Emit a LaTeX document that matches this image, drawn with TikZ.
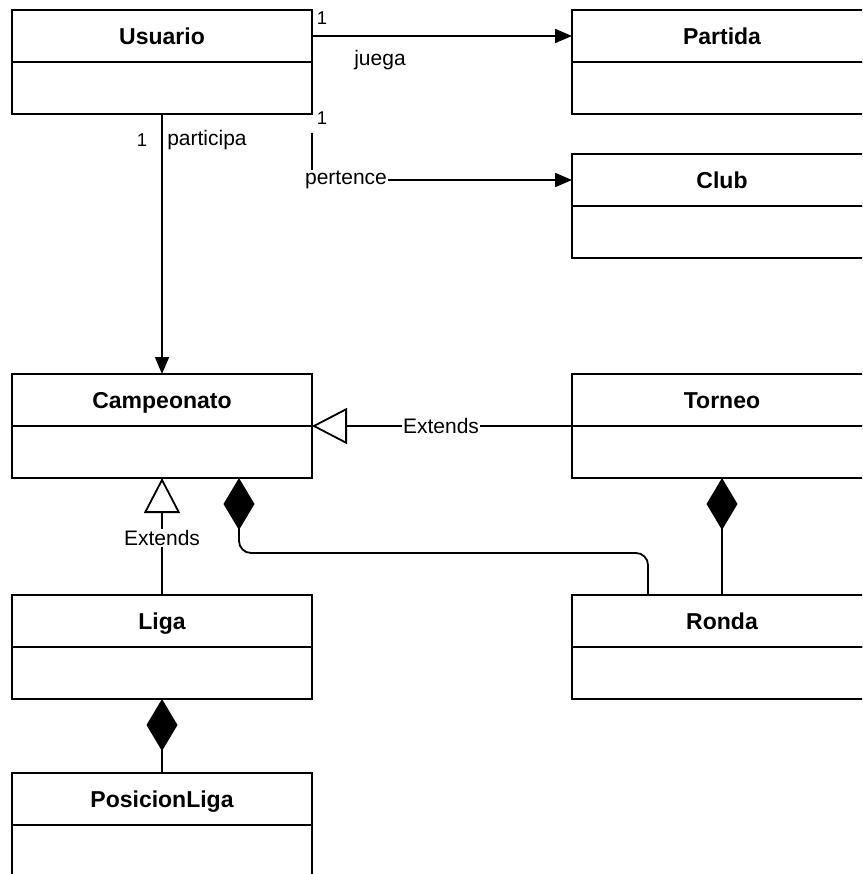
\documentclass[tikz,border=0pt]{standalone}
\usepackage{fontspec}
\setmainfont{Liberation Sans}
\usetikzlibrary{arrows.meta}

\tikzset{
  classtitle/.style={draw, line width=1.8pt, minimum width=300pt, minimum height=52pt,
    inner sep=0pt, outer sep=0pt, anchor=north west,
    text height=16.5pt, text depth=0pt,
    font=\fontsize{23}{27}\selectfont\bfseries},
  classbody/.style={draw, line width=1.8pt, minimum width=300pt, minimum height=52pt,
    inner sep=0pt, outer sep=0pt, anchor=north west},
  assoc/.style={line width=1.8pt, -{Triangle[length=17pt,width=14pt]}},
  inherit/.style={line width=1.8pt, -{Triangle[open,fill=white,length=35pt,width=36pt]}},
  compos/.style={line width=1.8pt, -{Diamond[length=52pt,width=31pt]}},
  lbl/.style={font=\fontsize{21}{25}\selectfont, inner sep=1pt},
  mult/.style={font=\fontsize{18.5}{22}\selectfont, inner sep=0pt},
}

% one UML class: header with the name, empty body below
\newcommand\umlclass[4]{%
  \node[classtitle] (#1T) at (#3,#4) {#2};
  \node[classbody] (#1B) at (#1T.south west) {};
}

\begin{document}
\begin{tikzpicture}[x=1pt,y=-1pt]
  \useasboundingbox (0,0) rectangle (862,874);
  \fill[white] (0,0) rectangle (862,874);
  \clip (0,0) rectangle (862,874);

  % classes
  \umlclass{usu}{Usuario}{12}{10}
  \umlclass{par}{Partida}{572}{10}
  \umlclass{club}{Club}{572}{154}
  \umlclass{cam}{Campeonato}{12}{374}
  \umlclass{tor}{Torneo}{572}{374}
  \umlclass{lig}{Liga}{12}{595}
  \umlclass{ron}{Ronda}{572}{595}
  \umlclass{pos}{PosicionLiga}{12}{773}

  % Usuario -> Partida
  \draw[assoc] (usuT.east) -- (parT.west);
  \node[mult] (m1) at (322,18) {1};
  \node[lbl] (ljuega) at (380,60) {juega};

  % Usuario -> Club
  \coordinate (pst) at (312,133);
  \draw[assoc] (pst) |- (clubT.west);
  \node[mult] (m2) at (322,118) {1};
  \node[lbl, fill=white] (lpert) at (346,180) {pertence};

  % Usuario -> Campeonato
  \draw[assoc] (usuB.south) -- (camT.north);
  \node[mult] (m3) at (142,140) {1};
  \node[lbl] (lpart) at (207,140) {participa};

  % generalisations
  \draw[inherit] (torB.north west) -- (camB.north east);
  \node[lbl, fill=white] (ext1) at (441,426) {Extends};
  \draw[inherit] (ligT.north) -- (camB.south);
  \node[lbl, fill=white] (ext2) at (162,538) {Extends};

  % compositions
  \draw[compos] (posT.north) -- (ligB.south);
  \draw[compos] (ronT.north) -- (torB.south);
  \coordinate (rtap) at ([xshift=76pt]ronT.north west);
  \coordinate (ctap) at ([xshift=227pt]camB.south west);
  \draw[compos, rounded corners=12pt] (rtap) -- ++(0,-42) -| (ctap);
\end{tikzpicture}
\end{document}
